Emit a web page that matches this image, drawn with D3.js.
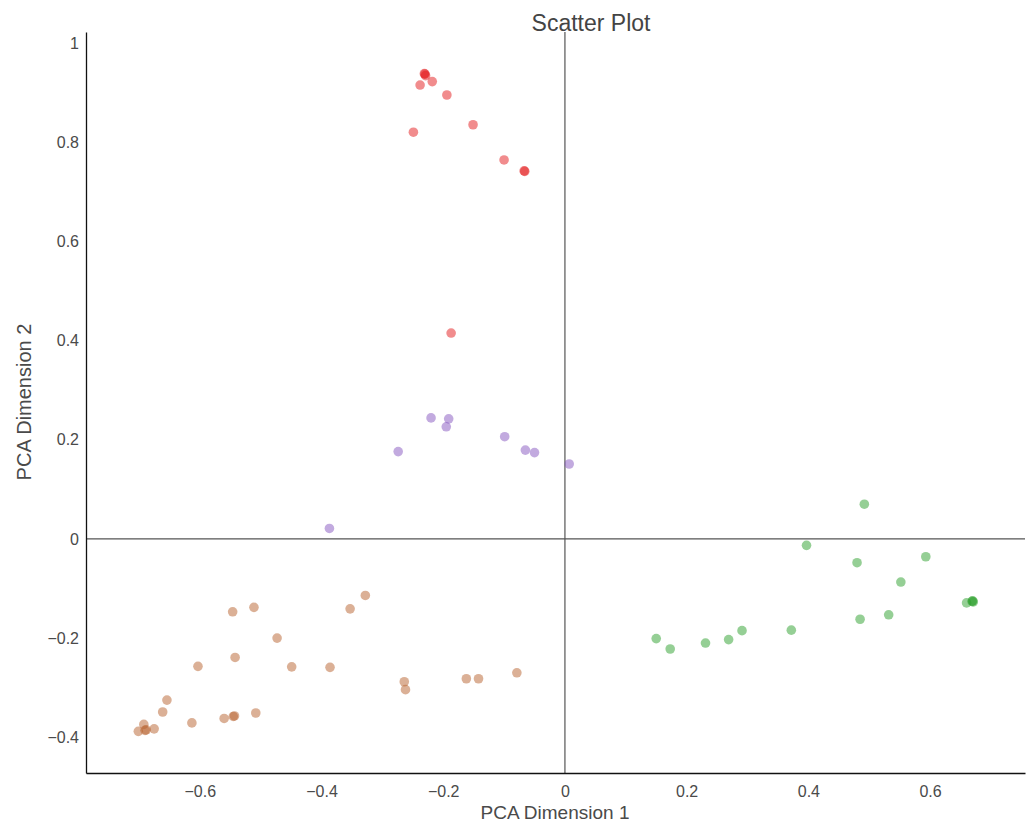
<!DOCTYPE html>
<html>
<head>
<meta charset="utf-8">
<script src="https://cdn.jsdelivr.net/npm/d3@7"></script>
<style>
  body { margin: 0; background: #fff; }
  text { font-family: "Liberation Sans", Arial, sans-serif; }
</style>
</head>
<body>
<svg id="chart" width="1029" height="822"></svg>
<script>
'use strict';

// values
var redX = [-0.230, -0.229, -0.231, -0.238, -0.218, -0.194, -0.151, -0.249, -0.100, -0.067, -0.066, -0.187];
var redY = [0.937, 0.934, 0.938, 0.915, 0.922, 0.895, 0.835, 0.820, 0.764, 0.742, 0.741, 0.415];

var purpleX = [-0.220, -0.191, -0.195, -0.274, -0.099, -0.065, -0.050, 0.007, -0.387];
var purpleY = [0.244, 0.242, 0.226, 0.176, 0.206, 0.179, 0.174, 0.151, 0.021];

var brownX = [-0.546, -0.511, -0.473, -0.542, -0.603, -0.449, -0.386, -0.654, -0.661, -0.613, -0.560,
              -0.545, -0.543, -0.508, -0.675, -0.692, -0.701, -0.690, -0.688,
              -0.328, -0.353, -0.264, -0.262, -0.162, -0.142, -0.079];
var brownY = [-0.147, -0.138, -0.200, -0.239, -0.257, -0.258, -0.259, -0.325, -0.349, -0.371, -0.362,
              -0.358, -0.357, -0.351, -0.383, -0.374, -0.388, -0.386, -0.385,
              -0.114, -0.141, -0.288, -0.304, -0.282, -0.282, -0.270];

var greenX = [0.492, 0.397, 0.480, 0.593, 0.552, 0.660, 0.669, 0.671, 0.670, 0.532, 0.485, 0.372, 0.291, 0.269, 0.231, 0.150, 0.173];
var greenY = [0.070, -0.013, -0.048, -0.036, -0.087, -0.129, -0.126, -0.127, -0.125, -0.153, -0.162, -0.184, -0.185, -0.203, -0.210, -0.201, -0.222];

var xTicks = [-0.6, -0.4, -0.2, 0, 0.2, 0.4, 0.6];
var yTicks = [-0.4, -0.2, 0, 0.2, 0.4, 0.6, 0.8, 1];

var groups = [
  { xs: redX, ys: redY, color: "#e41a1c" },
  { xs: purpleX, ys: purpleY, color: "#8556c0" },
  { xs: brownX, ys: brownY, color: "#b8612e" },
  { xs: greenX, ys: greenY, color: "#2ca02c" }
];

var svg = d3.select("#chart");
var plotLeft = 86, plotRight = 1025, plotTop = 32, plotBottom = 773;

var x = d3.scaleLinear().domain([-0.787, 0.756]).range([plotLeft, plotRight]);
var y = d3.scaleLinear().domain([-0.472, 1.022]).range([plotBottom, plotTop]);
var fmt = d3.format("~g");

// zero lines
svg.append("line")
  .attr("x1", x(0)).attr("x2", x(0)).attr("y1", plotTop).attr("y2", plotBottom)
  .attr("stroke", "#555").attr("stroke-width", 1.2);
svg.append("line")
  .attr("x1", plotLeft).attr("x2", plotRight).attr("y1", y(0)).attr("y2", y(0))
  .attr("stroke", "#555").attr("stroke-width", 1.2);

// points
groups.forEach(function(g) {
  svg.append("g").selectAll("circle")
    .data(g.xs)
    .enter().append("circle")
    .attr("cx", function(d) { return x(d); })
    .attr("cy", function(d, i) { return y(g.ys[i]); })
    .attr("r", 4.8)
    .style("fill", g.color)
    .style("fill-opacity", 0.5);
});

// axes
var xAxis = svg.append("g")
  .attr("transform", "translate(0," + plotBottom + ")")
  .call(d3.axisBottom(x).tickValues(xTicks).tickFormat(fmt).tickSize(0).tickPadding(13));
var yAxis = svg.append("g")
  .attr("transform", "translate(" + plotLeft + ",0)")
  .call(d3.axisLeft(y).tickValues(yTicks).tickFormat(fmt).tickSize(0).tickPadding(7));

[xAxis, yAxis].forEach(function(a) {
  a.select(".domain").attr("stroke", "#111").attr("stroke-width", 1.3);
  a.selectAll("text").attr("fill", "#4a4a4a").style("font-size", "16px")
    .style("font-family", "'Liberation Sans', Arial, sans-serif");
});

// titles
svg.append("text")
  .attr("x", 591).attr("y", 31)
  .attr("text-anchor", "middle")
  .attr("fill", "#444").style("font-size", "23px")
  .text("Scatter Plot");

svg.append("text")
  .attr("x", 555).attr("y", 819)
  .attr("text-anchor", "middle")
  .attr("fill", "#4a4a4a").style("font-size", "19px")
  .text("PCA Dimension 1");

svg.append("text")
  .attr("transform", "translate(31,402) rotate(-90)")
  .attr("text-anchor", "middle")
  .attr("fill", "#4a4a4a").style("font-size", "20px")
  .text("PCA Dimension 2");
</script>
</body>
</html>
